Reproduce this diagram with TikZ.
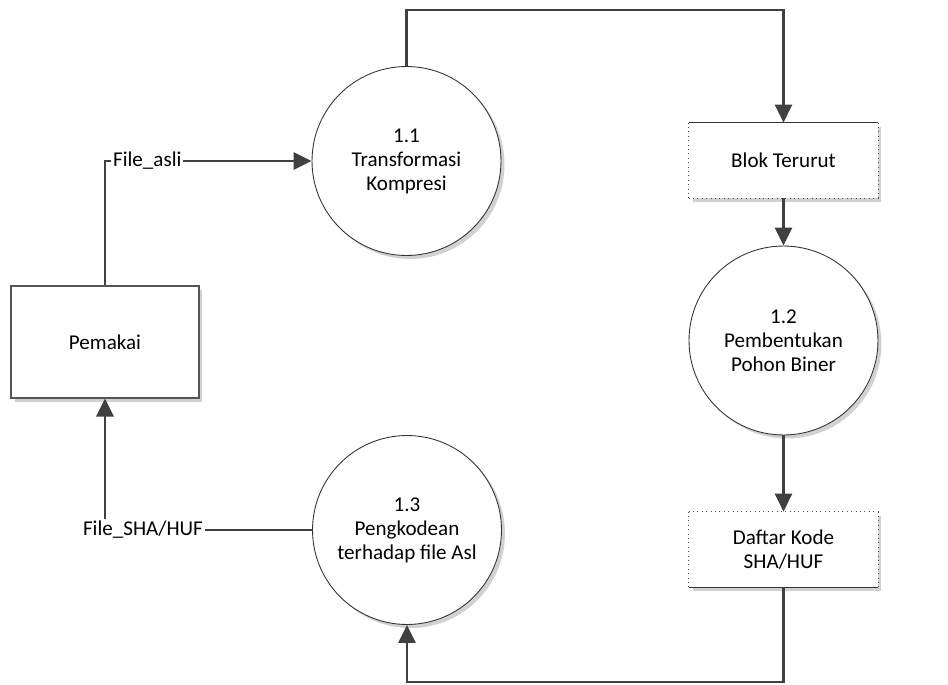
\documentclass[tikz,border=0pt]{standalone}
\usepackage{fontspec}
\setmainfont{Carlito}
\usetikzlibrary{arrows.meta,shadows}
\definecolor{flowc}{HTML}{404040}
\definecolor{edgec}{HTML}{555555}
\begin{document}
\begin{tikzpicture}[x=0.02cm,y=-0.02cm,
  font=\fontsize{12}{13.7}\selectfont,
  conn/.style={draw=flowc, line width=1.6pt},
  flow/.style={conn, -{Triangle[length=0.36cm,width=0.34cm]}},
  shad/.style={drop shadow={shadow xshift=2pt, shadow yshift=-2pt, fill=black, opacity=0.18}},
  proc/.style={circle, draw=black!80, line width=0.5pt, fill=white, minimum size=3.78cm, inner sep=0pt, align=center, shad},
  ent/.style={rectangle, draw=edgec, line width=0.6pt, fill=white, minimum width=3.76cm, minimum height=2.24cm, inner sep=0pt, shad},
  store/.style={rectangle, fill=white, minimum width=3.78cm, minimum height=1.5cm, inner sep=0pt, align=center, shad},
  solidedge/.style={draw=black!80, line width=0.6pt},
  dotedge/.style={draw=black!70, line width=0.5pt, dotted},
  lbl/.style={fill=white, inner xsep=1pt, inner ysep=1pt}
]
\useasboundingbox (0,0) rectangle (948,684);

% nodes
\node[ent] (pem) at (105,342) {Pemakai};
\node[proc] (c1) at (406.5,161) {1.1\\Transformasi\\Kompresi};
\node[store] (blok) at (783.5,160.5) {Blok Terurut};
\node[proc] (c2) at (783.5,340.5) {1.2\\Pembentukan\\Pohon Biner};
\node[store] (daf) at (783.5,549.5) {Daftar Kode\\SHA/HUF};
\node[proc] (c3) at (407,530) {1.3\\Pengkodean\\terhadap file Asl};

% store edges
\draw[solidedge] (blok.north west) -- (blok.north east);
\draw[dotedge] (blok.south west) -- (blok.south east);
\draw[dotedge] (blok.north west) -- (blok.south west);
\draw[dotedge] (blok.north east) -- (blok.south east);
\draw[dotedge] (daf.north west) -- (daf.north east);
\draw[solidedge] (daf.south west) -- (daf.south east);
\draw[dotedge] (daf.north west) -- (daf.south west);
\draw[dotedge] (daf.north east) -- (daf.south east);

% coordinates
\coordinate (ctop) at (406.5,10);
\coordinate (cbot) at (407,682);
\coordinate (corn) at (105,161);

% connectors
\draw[flow] (pem.north) -- (corn) -- (c1.west);
\node[lbl, anchor=west] (fa) at (111,161) {File\_asli};

\draw[flow] (c1.north) -- (ctop) -| (blok.north);
\draw[flow] (blok.south) -- (c2.north);
\draw[flow] (c2.south) -- (daf.north);
\draw[flow] (daf.south) |- (cbot) -- (c3.south);

\node[lbl] (fs) at (143,530) {File\_SHA/HUF};
\draw[conn] (c3.west) -- (c3.west -| fs.east);
\draw[flow] (fs.north -| pem.south) -- (pem.south);
\end{tikzpicture}
\end{document}
